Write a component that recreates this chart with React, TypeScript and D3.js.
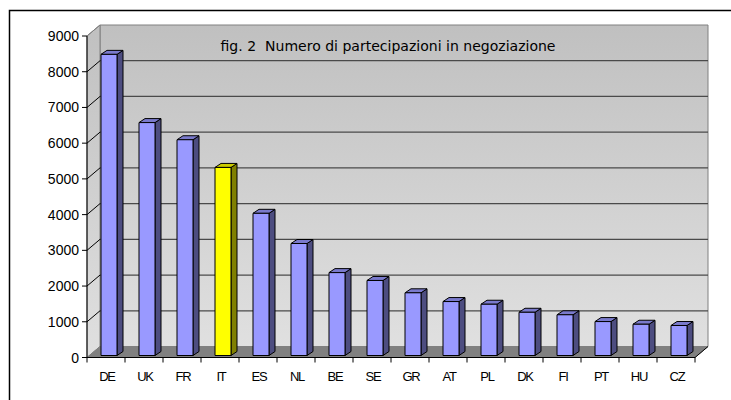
import React from "react";
import * as d3 from "d3";

const categories = ["DE", "UK", "FR", "IT", "ES", "NL", "BE", "SE", "GR", "AT", "PL", "DK", "FI", "PT", "HU", "CZ"];
const values = [8430, 6520, 6040, 5265, 3980, 3135, 2320, 2100, 1755, 1510, 1435, 1210, 1140, 950, 875, 840];
const highlight = ["IT"];
const yTicks = [0, 1000, 2000, 3000, 4000, 5000, 6000, 7000, 8000, 9000];
const title = "fig. 2\u00a0\u00a0Numero di partecipazioni in negoziazione";

const W = 731;
const H = 400;
const DX = 13; // wall depth
const DY = -11;
const BDX = 6; // bar depth
const BDY = -4;

export default function App() {
  const x = d3.scaleBand<string>().domain(categories).range([87, 695]).padding(0);
  const y = d3.scaleLinear().domain([0, 9000]).range([357.5, 36]);
  const x0 = 87, x1 = 695;
  const y0 = y(0), yTop = y(9000);
  const barW = 16;
  const barOffX = 14;
  const barOffY = -2;
  const font = "'Liberation Sans', Arimo, Arial, sans-serif";

  const floor = `M${x0},${y0} L${x1},${y0} L${x1 + DX},${y0 + DY} L${x0 + DX},${y0 + DY} Z`;
  const back = `M${x0 + DX},${yTop + DY} L${x1 + DX},${yTop + DY} L${x1 + DX},${y0 + DY} L${x0 + DX},${y0 + DY} Z`;
  const side = `M${x0},${yTop} L${x0 + DX},${yTop + DY} L${x0 + DX},${y0 + DY} L${x0},${y0} Z`;

  return (
    <svg width={W} height={H} style={{ position: "absolute", left: 0, top: 0, background: "#fff" }}>
      <defs>
        <linearGradient id="wallGrad" x1="0" y1="0" x2="0" y2="1">
          <stop offset="0" stopColor="#c0c0c0" />
          <stop offset="1" stopColor="#e0e0e0" />
        </linearGradient>
      </defs>
      <rect x={9.5} y={10.5} width={760} height={420} fill="#fff" stroke="#000" strokeWidth={1.5} />
      {/* walls */}
      <path d={back} fill="url(#wallGrad)" stroke="#808080" strokeWidth={1} />
      <path d={side} fill="url(#wallGrad)" stroke="#808080" strokeWidth={1} />
      <path d={floor} fill="#808080" stroke="#808080" strokeWidth={1} />
      {/* gridlines */}
      {yTicks.filter(t => t > 0 && t < 9000).map(t => (
        <g key={"g" + t}>
          <line x1={x0} y1={y(t)} x2={x0 + DX} y2={y(t) + DY} stroke="#000" strokeWidth={1} />
          <line x1={x0 + DX} y1={y(t) + DY} x2={x1 + DX} y2={y(t) + DY} stroke="#4a4a4a" strokeWidth={1.2} />
        </g>
      ))}
      {/* title */}
      <text x={388} y={51} textAnchor="middle" fontFamily="'Comic Sans MS', 'DejaVu Sans', sans-serif" fontSize={14} textLength={335} lengthAdjust="spacingAndGlyphs" fill="#000">{title}</text>
      {/* bars */}
      {categories.map((c, i) => {
        const v = values[i];
        const bx = (x(c) as number) + barOffX;
        const by = y(v) + barOffY;
        const bb = y0 + barOffY;
        const hl = highlight.includes(c);
        const front = hl ? "#ffff00" : "#9999ff";
        const sideC = hl ? "#808000" : "#4d4d80";
        const topC = hl ? "#cccc00" : "#7a7acc";
        return (
          <g key={c} stroke="#000" strokeWidth={1} strokeLinejoin="round">
            <path d={`M${bx + barW},${by} L${bx + barW + BDX},${by + BDY} L${bx + barW + BDX},${bb + BDY} L${bx + barW},${bb} Z`} fill={sideC} />
            <path d={`M${bx},${by} L${bx + BDX},${by + BDY} L${bx + barW + BDX},${by + BDY} L${bx + barW},${by} Z`} fill={topC} />
            <rect x={bx} y={by} width={barW} height={bb - by} fill={front} />
          </g>
        );
      })}
      {/* axes */}
      <line x1={x0} y1={yTop} x2={x0} y2={y0} stroke="#000" strokeWidth={1} />
      <line x1={x0} y1={yTop} x2={x0 + DX} y2={yTop + DY} stroke="#808080" strokeWidth={1} />
      <line x1={x0} y1={y0} x2={x1} y2={y0} stroke="#000" strokeWidth={1} />
      <line x1={x1} y1={y0} x2={x1 + DX} y2={y0 + DY} stroke="#000" strokeWidth={1} />
      {yTicks.map(t => (
        <g key={"y" + t}>
          <line x1={x0 - 5} y1={y(t)} x2={x0} y2={y(t)} stroke="#000" />
          <text x={79} y={y(t) + 5} textAnchor="end" fontFamily={font} fontSize={14} fill="#000">{t}</text>
        </g>
      ))}
      {categories.map(c => (
        <line key={"t" + c} x1={x(c) as number} y1={y0} x2={x(c) as number} y2={y0 + 5} stroke="#000" />
      ))}
      <line x1={x1} y1={y0} x2={x1} y2={y0 + 5} stroke="#000" />
      {categories.map(c => (
        <text key={"l" + c} x={(x(c) as number) + x.bandwidth() / 2 + 1} y={381} textAnchor="middle" fontFamily={font} fontSize={13} letterSpacing={-1.2} fill="#000">{c}</text>
      ))}
    </svg>
  );
}
